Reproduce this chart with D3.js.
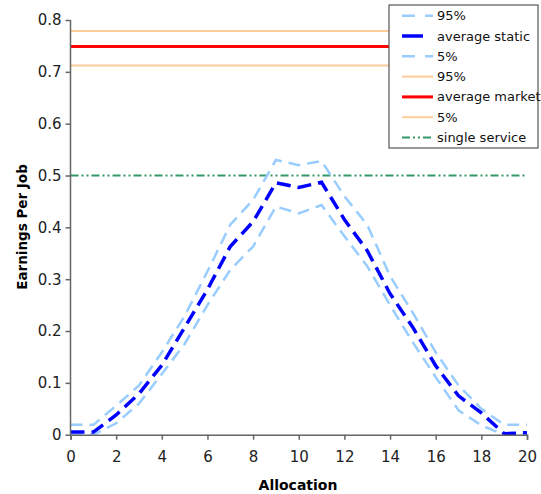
<!DOCTYPE html>
<html><head><meta charset="utf-8">
<script src="https://cdn.jsdelivr.net/npm/d3@7"></script>
<style>body{margin:0;background:#fff}svg{display:block}text{font-family:"DejaVu Sans",sans-serif}</style>
</head><body><svg id="c" width="541" height="494"></svg>
<script>
const allocation = d3.range(0, 21);
const static95 = [0.019,0.019,0.056,0.095,0.159,0.229,0.315,0.405,0.453,0.53,0.52,0.528,0.46,0.405,0.306,0.235,0.159,0.095,0.05,0.019,0.019];
const staticAvg = [0.005,0.005,0.038,0.079,0.134,0.207,0.28,0.363,0.411,0.486,0.477,0.487,0.415,0.355,0.272,0.207,0.133,0.075,0.042,0.002,0.004];
const static5 = [0,0,0.022,0.06,0.117,0.175,0.25,0.318,0.363,0.44,0.427,0.443,0.383,0.325,0.25,0.178,0.111,0.047,0.018,0,0];
const market95 = 0.779, marketAvg = 0.749, market5 = 0.712, singleService = 0.5;
const xTicks = d3.range(0, 21, 2);
const yTicks = [0,0.1,0.2,0.3,0.4,0.5,0.6,0.7,0.8];

const svg = d3.select("#c");
const x = d3.scaleLinear().domain([0,20]).range([70.5,527]);
const y = d3.scaleLinear().domain([0,0.8]).range([434.7,20]);

const series = [
  {name:"95%", kind:"static", values:static95, color:"#99ccff", w:2.5, dash:"12,7"},
  {name:"average static", kind:"static", values:staticAvg, color:"#0000ff", w:3.5, dash:"14,7"},
  {name:"5%", kind:"static", values:static5, color:"#99ccff", w:2.5, dash:"12,7"},
  {name:"95%", kind:"const", value:market95, color:"#ffcc99", w:2},
  {name:"average market", kind:"const", value:marketAvg, color:"#ff0000", w:3},
  {name:"5%", kind:"const", value:market5, color:"#ffcc99", w:2},
  {name:"single service", kind:"const", value:singleService, color:"#339966", w:2, dash:"8,3,2,3,2,3"}
];

const line = d3.line().x((d,i)=>x(allocation[i])).y(d=>y(d));
const plotOrder = [3,4,5,6,2,0,1];
plotOrder.forEach(k=>{
  const s = series[k];
  const vals = s.kind==="static" ? s.values : allocation.map(()=>s.value);
  svg.append("path").attr("d", line(vals)).attr("fill","none")
    .attr("stroke", s.color).attr("stroke-width", s.w)
    .attr("stroke-dasharray", s.dash||null);
});

const xAxis = svg.append("g").attr("transform","translate(0,434.7)")
  .call(d3.axisBottom(x).tickValues(xTicks).tickSize(5).tickPadding(12));
const yAxis = svg.append("g").attr("transform","translate(70.5,0)")
  .call(d3.axisLeft(y).tickValues(yTicks).tickSize(5).tickPadding(4).tickFormat(d=>d===0?"0":d3.format(".1f")(d)));
[xAxis,yAxis].forEach(a=>{
  a.selectAll("path,line").attr("stroke","#666").attr("stroke-width",1.5);
  a.selectAll("text").attr("font-size",15).attr("fill","#222");
});
yAxis.select(".domain").attr("d","M-0,20V434.7");

svg.append("text").attr("x",298).attr("y",490).attr("text-anchor","middle")
  .attr("font-size",14).attr("font-weight","bold").text("Allocation");
svg.append("text").attr("transform","translate(27,227)rotate(-90)").attr("text-anchor","middle")
  .attr("font-size",13.5).attr("font-weight","bold").text("Earnings Per Job");

// legend
const lg = svg.append("g");
lg.append("rect").attr("x",389).attr("y",5).attr("width",149).attr("height",143)
  .attr("fill","#fff").attr("stroke","#555").attr("stroke-width",1.2);
series.forEach((s,i)=>{
  const yy = 15.7 + i*20.3;
  const x2 = s.name==="average static" ? 423 : 433;
  lg.append("line").attr("x1",402).attr("x2",x2).attr("y1",yy).attr("y2",yy)
    .attr("stroke",s.color).attr("stroke-width",s.w)
    .attr("stroke-dasharray", s.name==="average static" ? null : (s.kind==="static" ? "13,10" : (s.dash||null)));
  lg.append("text").attr("x",437).attr("y",yy+4.5).attr("font-size",13).attr("font-family","Lato, sans-serif").attr("fill","#111").text(s.name);
});
</script></body></html>
